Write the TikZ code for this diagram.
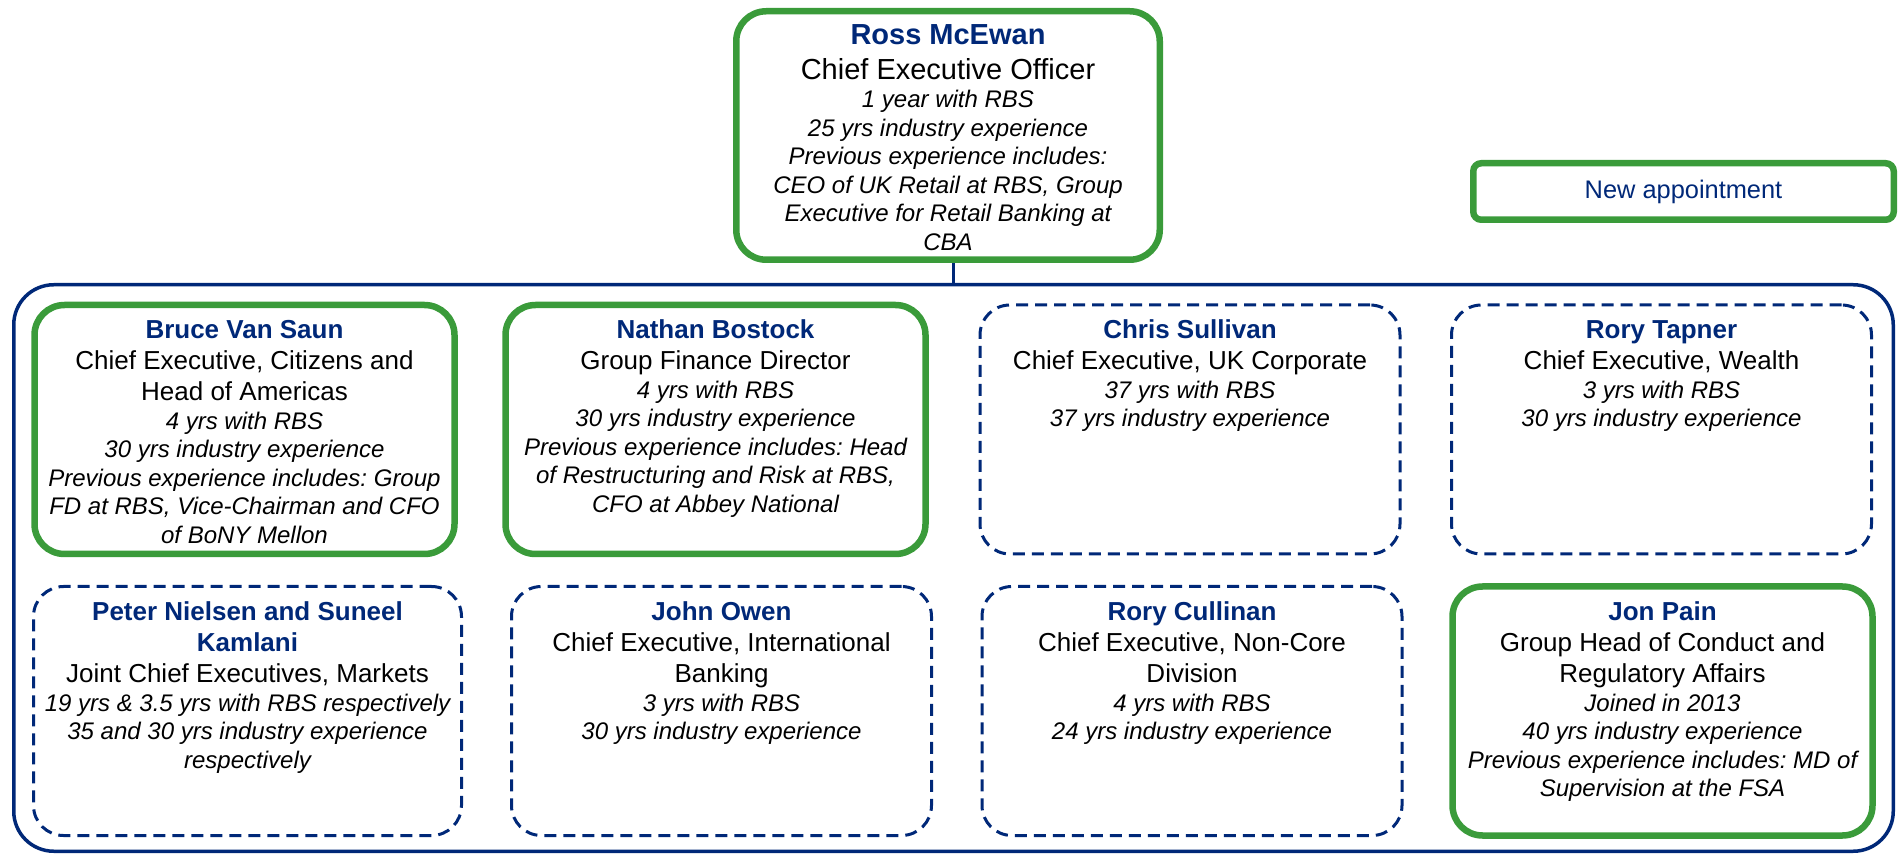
\documentclass[tikz,border=0pt]{standalone}
\usepackage{fontspec}
\setmainfont{Liberation Sans}
\frenchspacing

\definecolor{rbsblue}{RGB}{0,40,120}
\definecolor{rbsgreen}{RGB}{58,155,58}

\newcommand{\namefont}{\fontsize{13}{15.5}\selectfont\bfseries\color{rbsblue}}
\newcommand{\rolefont}{\fontsize{13}{15.5}\selectfont}
\newcommand{\notefont}{\fontsize{12}{14.25}\selectfont\itshape}

% name, role, notes
\newcommand{\bio}[3]{\parbox[c][124pt][t]{205pt}{\centering
  {\leavevmode\namefont\rule{0pt}{16.75pt}#1\par}
  {\rolefont #2\par}
  {\notefont #3\par}}}

\tikzset{
  card/.style={rounded corners=15pt, inner sep=0pt, minimum width=210pt, minimum height=124.5pt},
  newcard/.style={card, draw=rbsgreen, line width=3.25pt},
  oldcard/.style={card, draw=rbsblue, line width=1.5pt, dash pattern=on 6pt off 3.5pt},
  link/.style={draw=rbsblue, line width=1.5pt}
}

\begin{document}
\begin{tikzpicture}[x=0.5pt, y=-0.5pt]
\useasboundingbox (0,0) rectangle (1902,855);

\node[draw=rbsblue, line width=1.75pt, rounded corners=20pt, minimum width=939.75pt, minimum height=283.25pt] at (953.5,568) (team) {};

\node[newcard, minimum width=211.75pt, minimum height=124.25pt] at (948,135.5) (ceo)
  {\parbox[c][124pt][t]{205pt}{\centering
    {\leavevmode\fontsize{14.5}{17.5}\selectfont\bfseries\color{rbsblue}\rule{0pt}{16.5pt}Ross McEwan\par}
    {\fontsize{14.5}{17.5}\selectfont Chief Executive Officer\par}
    {\notefont 1 year with RBS\\25 yrs industry experience\\Previous experience includes:\\CEO of UK Retail at RBS, Group\\Executive for Retail Banking at\\CBA\par}}};

\node[newcard, rounded corners=4pt, minimum width=210.25pt, minimum height=28.25pt] at (1683.5,191.5) (legend)
  {\fontsize{12.7}{15}\selectfont\color{rbsblue}New appointment};

\node[newcard] at (244.5,429.5) (bruce) {\bio{Bruce Van Saun}{Chief Executive, Citizens and\\Head of Americas}
  {4 yrs with RBS\\30 yrs industry experience\\Previous experience includes: Group\\FD at RBS, Vice-Chairman and CFO\\of BoNY Mellon}};
\node[newcard] at (715.5,429.5) (nathan) {\bio{Nathan Bostock}{Group Finance Director}
  {4 yrs with RBS\\30 yrs industry experience\\Previous experience includes: Head\\of Restructuring and Risk at RBS,\\CFO at Abbey National}};
\node[oldcard] at (1190,429.5) (chris) {\bio{Chris Sullivan}{Chief Executive, UK Corporate}
  {37 yrs with RBS\\37 yrs industry experience}};
\node[oldcard] at (1661.5,429.5) (tapner) {\bio{Rory Tapner}{Chief Executive, Wealth}
  {3 yrs with RBS\\30 yrs industry experience}};

\node[oldcard, minimum width=214pt] at (247.5,711) (peter) {\bio{Peter Nielsen and Suneel\\Kamlani}{Joint Chief Executives, Markets}
  {19 yrs \& 3.5 yrs with RBS respectively\\35 and 30 yrs industry experience\\respectively}};
\node[oldcard] at (721.5,711) (john) {\bio{John Owen}{Chief Executive, International\\Banking}
  {3 yrs with RBS\\30 yrs industry experience}};
\node[oldcard] at (1192,711) (cullinan) {\bio{Rory Cullinan}{Chief Executive, Non-Core\\Division}
  {4 yrs with RBS\\24 yrs industry experience}};
\node[newcard] at (1662.5,711) (pain) {\bio{Jon Pain}{Group Head of Conduct and\\Regulatory Affairs}
  {Joined in 2013\\40 yrs industry experience\\Previous experience includes: MD of\\Supervision at the FSA}};

\draw[link] (team.north) -- (team.north |- ceo.south);

\end{tikzpicture}
\end{document}
